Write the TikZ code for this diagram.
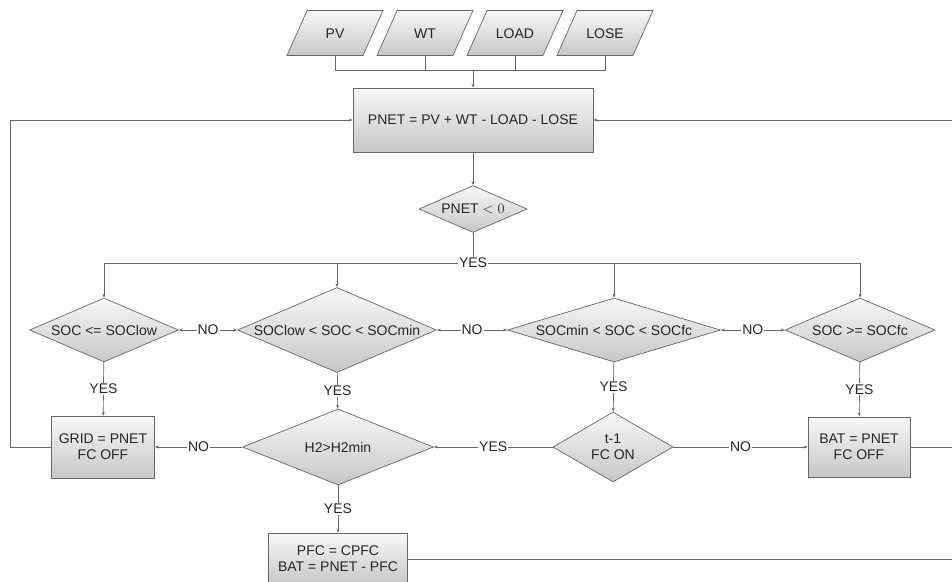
\documentclass[tikz,border=0pt]{standalone}
\usepackage{fontspec}
\setmainfont{Liberation Sans}
\usetikzlibrary{shapes.geometric,arrows.meta}

\begin{document}
\begin{tikzpicture}[x=1pt,y=-1pt,
    font=\fontsize{14}{16}\selectfont,
    line width=.7pt,
    flow/.style={draw=black!60, top color=black!3, bottom color=black!22,
      align=center, text=black!85},
    proc/.style={flow, rectangle, inner sep=0pt},
    test/.style={flow, diamond, aspect=3, inner sep=0pt},
    data/.style={flow, trapezium, trapezium left angle=66,
      trapezium right angle=114, trapezium stretches body=true,
      inner xsep=0pt, inner ysep=17.5pt, text height=10pt, text depth=0pt,
      minimum width=96pt},
    wire/.style={draw=black!60},
    link/.style={wire, -{Stealth[length=4pt,width=3pt]}},
    both/.style={wire, {Stealth[length=4pt,width=3pt]}-{Stealth[length=4pt,width=3pt]}},
    tag/.style={fill=white, inner sep=1pt, text=black!85}]

  \useasboundingbox (0,0) rectangle (952,581);

  % inputs
  \node[data] (pv)   at (335,33) {PV};
  \node[data] (wt)   at (425,33) {WT};
  \node[data] (load) at (515,33) {LOAD};
  \node[data] (lose) at (605,33) {LOSE};

  \node[proc, minimum width=240pt, minimum height=64pt] (pnet) at (473,120)
    {PNET = PV + WT - LOAD - LOSE};
  \node[test, aspect=2.3, minimum width=108pt, minimum height=47pt] (neg)
    at (473,209) {PNET $<0$};

  % battery state tests
  \node[test, minimum width=149pt, minimum height=64pt] (low)  at (104,330) {SOC <= SOClow};
  \node[test, minimum width=199pt, minimum height=85pt] (mid)  at (337,330) {SOClow < SOC < SOCmin};
  \node[test, minimum width=213pt, minimum height=64pt] (high) at (614,330) {SOCmin < SOC < SOCfc};
  \node[test, minimum width=150pt, minimum height=64pt] (full) at (860,330) {SOC >= SOCfc};

  % actions
  \node[proc, minimum width=103pt, minimum height=62pt] (grid) at (103,447) {GRID = PNET\\FC OFF};
  \node[test, minimum width=191pt, minimum height=76pt] (htwo) at (338,447) {H2>H2min};
  \node[test, aspect=1.6, minimum width=120pt, minimum height=70pt] (last) at (613,447) {t-1\\FC ON};
  \node[proc, minimum width=102pt, minimum height=60pt] (bat)  at (859,447) {BAT = PNET\\FC OFF};
  \node[proc, minimum width=139pt, minimum height=52pt] (pfc)  at (338,559) {PFC = CPFC\\BAT = PNET - PFC};

  \coordinate (join)  at (473,70);
  \coordinate (split) at (473,263);
  \coordinate (lft)   at (10,120);
  \coordinate (rgt)   at (953,120);

  % wiring
  \foreach \n in {pv,wt,load,lose}
    \draw[wire] (\n) |- (join);
  \draw[link] (join) -- (pnet);
  \draw[link] (pnet) -- (neg);
  \draw[wire] (neg) -- (split);
  \foreach \n in {low,mid,high,full}
    \draw[link] (split) -| (\n);
  \node[tag] at (split) {YES};

  \draw[both] (low)  -- node[tag] {NO} (mid);
  \draw[both] (mid)  -- node[tag] {NO} (high);
  \draw[both] (high) -- node[tag] {NO} (full);

  \draw[link] (low)  -- node[tag] {YES} (grid);
  \draw[link] (mid)  -- node[tag] {YES} (htwo);
  \draw[link] (high) -- node[tag] {YES} (last);
  \draw[link] (full) -- node[tag] {YES} (bat);
  \draw[link] (htwo) -- node[tag] {YES} (pfc);

  \draw[link] (htwo) -- node[tag] {NO} (grid);
  \draw[link] (last) -- node[tag] {YES} (htwo);
  \draw[link] (last) -- node[tag] {NO} (bat);

  % feedback to the balance
  \draw[link] (grid) -| (lft) -- (pnet);
  \draw[wire] (bat) -- (bat -| rgt);
  \draw[link] (pfc) -| (rgt) -- (pnet);

\end{tikzpicture}
\end{document}
